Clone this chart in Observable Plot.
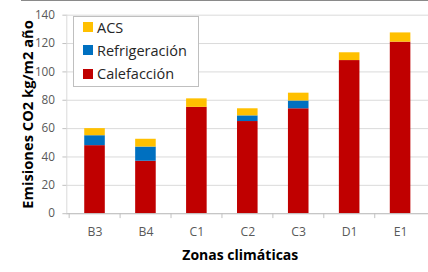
<!DOCTYPE html>
<html>
<head>
<meta charset="utf-8">
<script src="https://cdn.jsdelivr.net/npm/d3@7"></script>
<script src="https://cdn.jsdelivr.net/npm/@observablehq/plot@0.6"></script>
<style>
  html, body { margin: 0; padding: 0; background: #fff; overflow: hidden; width: 428px; height: 272px; }
  #wrap { position: relative; width: 428px; height: 272px; overflow: hidden; font-family: "Open Sans", sans-serif; }
  #topline { position: absolute; left: 21px; top: 0; width: 407px; height: 1px; background: #8a8a8a; }
  #legend { position: absolute; left: 73px; top: 16px; width: 126px; height: 71px; border: 1px solid #bfbfbf; background: #fff; box-sizing: border-box; }
  .item { position: absolute; left: 9px; display: flex; align-items: center; font-size: 14.5px; color: #262626; white-space: nowrap; }
  .sw { width: 10px; height: 10px; margin-right: 4px; display: inline-block; }
  g[aria-label="y-axis label"] text { font-weight: bold; font-size: 15px; fill: #000; }
</style>
</head>
<body>
<div id="wrap"><div id="chart"></div><div id="topline"></div><div id="legend"></div></div>
<script>
const zonas = ["B3", "B4", "C1", "C2", "C3", "D1", "E1"];
const calefaccion = [48, 37, 75, 65, 74, 108, 121];
const refrigeracion = [7, 10, 0, 4, 5.5, 0, 0];
const acs = [5, 5.5, 6, 5, 5.5, 5.5, 6.5];
const series = ["Calefacción", "Refrigeración", "ACS"];
const colores = ["#C00000", "#0070C0", "#FFC000"];
const legendOrder = ["ACS", "Refrigeración", "Calefacción"];
const yTicks = [0, 20, 40, 60, 80, 100, 120, 140];
const yTitle = "Emisiones CO2 kg/m2 año";
const xTitle = "Zonas climáticas";

const valores = [calefaccion, refrigeracion, acs];
const data = [];
series.forEach((s, i) => zonas.forEach((z, j) => data.push({zona: z, serie: s, valor: valores[i][j]})));

const W = 437, H = 272, mL = 67.7, mR = 0, mT = 15, mB = 54.3;
const step = (W - mL - mR) / zonas.length;

const chart = Plot.plot({
  width: W, height: H,
  marginLeft: mL, marginRight: mR, marginTop: mT, marginBottom: mB,
  style: {fontFamily: "Open Sans, sans-serif", fontSize: "12px", color: "#595959", background: "#fff"},
  x: {domain: zonas, paddingInner: 0.6, paddingOuter: 0.3},
  y: {domain: [0, 140]},
  color: {domain: series, range: colores},
  marks: [
    Plot.gridY(yTicks, {stroke: "#d9d9d9", strokeOpacity: 1}),
    Plot.frame({anchor: "left", stroke: "#d9d9d9"}),
    Plot.barY(data, {x: "zona", y: "valor", fill: "serie", order: series}),
    Plot.ruleY([0], {stroke: "#bfbfbf"}),
    Plot.axisY(yTicks, {tickSize: 4, tickPadding: 8, stroke: "#bfbfbf", fill: "#595959", fontSize: 12,
      label: yTitle, labelAnchor: "center", labelOffset: 45, labelArrow: false}),
    Plot.axisX({tickSize: 0, tickPadding: 14, fill: "#595959", fontSize: 12.5, label: null}),
    Plot.axisX({text: null, tickSize: 5, dx: -step / 2, stroke: "#bfbfbf", label: null}),
    Plot.text([xTitle], {frameAnchor: "bottom", dy: 47, dx: -7.5, fontWeight: "bold", fontSize: 14.3, fill: "#000"})
  ]
});
document.getElementById("chart").appendChild(chart);

const legend = document.getElementById("legend");
legendOrder.forEach((s, i) => {
  const d = document.createElement("div");
  d.className = "item";
  d.style.top = (-1 + i * 23.3) + "px";
  d.style.height = "22px";
  const sw = document.createElement("span");
  sw.className = "sw";
  sw.style.background = colores[series.indexOf(s)];
  d.appendChild(sw);
  d.appendChild(document.createTextNode(s));
  legend.appendChild(d);
});
</script>
</body>
</html>
